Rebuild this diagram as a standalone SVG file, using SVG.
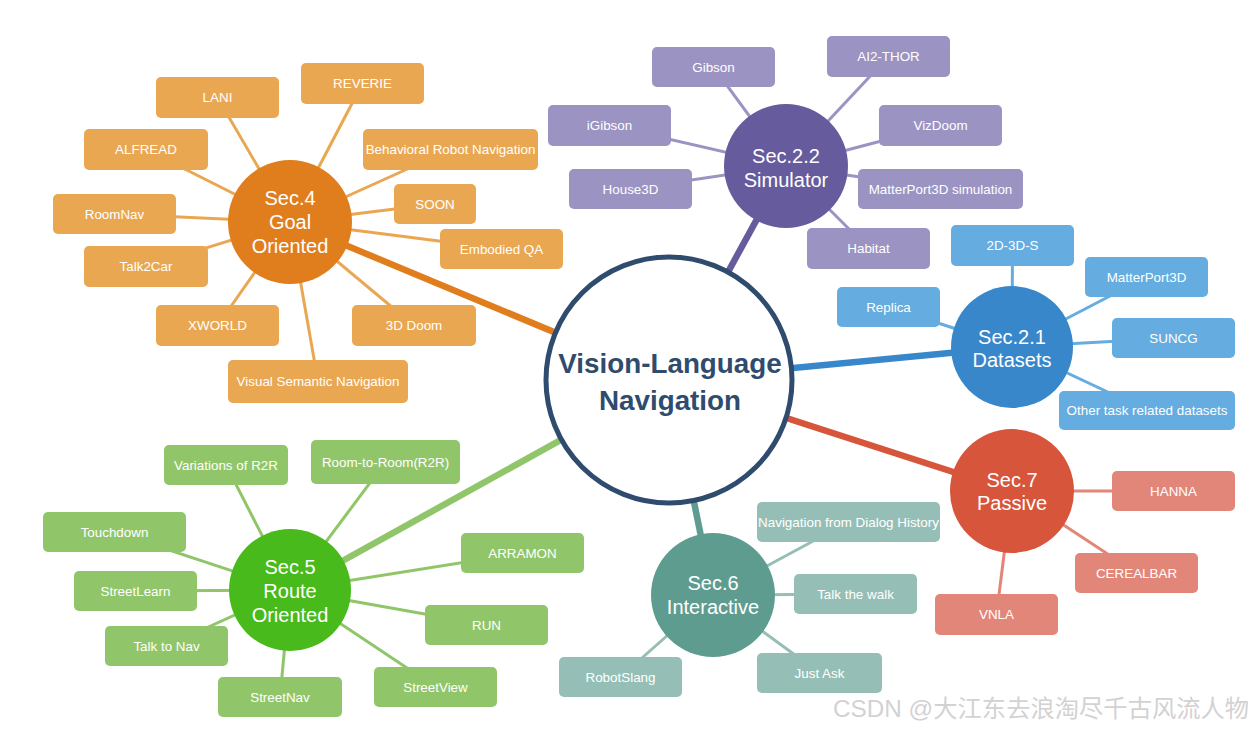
<svg xmlns="http://www.w3.org/2000/svg" width="1250" height="730" viewBox="0 0 1250 730">
<style>
text{font-family:"Liberation Sans",Arial,sans-serif;text-anchor:middle;fill:#fff}
.bt{font-size:13.4px}
.ct{font-size:20px}
.thin{stroke-width:3;fill:none}
.main{stroke-width:6.5;fill:none}
.o{fill:#eaa751}.oc{fill:#e07e1e}
.p{fill:#9b93c1}.pc{fill:#665b9c}
.b{fill:#65ade0}.bc{fill:#3987cb}
.r{fill:#e3867a}.rc{fill:#d6553b}
.g{fill:#90c669}.gc{fill:#48ba1b}
.t{fill:#95bfb6}.tc{fill:#5f9c90}
</style>
<rect width="1250" height="730" fill="#fff"/>
<g id="connectors">
 <g stroke="#eaa751" class="thin">
  <line x1="290" y1="222" x2="217.5" y2="97.5"/>
  <line x1="290" y1="222" x2="362.5" y2="83.5"/>
  <line x1="290" y1="222" x2="146" y2="149.5"/>
  <line x1="290" y1="222" x2="450.5" y2="149.5"/>
  <line x1="290" y1="222" x2="114.5" y2="214"/>
  <line x1="290" y1="222" x2="435" y2="204"/>
  <line x1="290" y1="222" x2="501.5" y2="249"/>
  <line x1="290" y1="222" x2="146" y2="266.5"/>
  <line x1="290" y1="222" x2="217.5" y2="325.5"/>
  <line x1="290" y1="222" x2="414" y2="325.5"/>
  <line x1="290" y1="222" x2="318" y2="381.5"/>
 </g>
 <g stroke="#9b93c1" class="thin">
  <line x1="786" y1="166" x2="713.5" y2="67"/>
  <line x1="786" y1="166" x2="888.5" y2="56.5"/>
  <line x1="786" y1="166" x2="609.5" y2="125.5"/>
  <line x1="786" y1="166" x2="940.5" y2="125.5"/>
  <line x1="786" y1="166" x2="630.5" y2="189"/>
  <line x1="786" y1="166" x2="940.5" y2="189"/>
  <line x1="786" y1="166" x2="868.5" y2="248.5"/>
 </g>
 <g stroke="#65ade0" class="thin">
  <line x1="1012" y1="347" x2="1012.5" y2="245.5"/>
  <line x1="1012" y1="347" x2="1146.5" y2="277"/>
  <line x1="1012" y1="347" x2="888.5" y2="307"/>
  <line x1="1012" y1="347" x2="1173.5" y2="338"/>
  <line x1="1012" y1="347" x2="1147" y2="410.5"/>
 </g>
 <g stroke="#e3867a" class="thin">
  <line x1="1012" y1="491" x2="1173.5" y2="491"/>
  <line x1="1012" y1="491" x2="1136.5" y2="573"/>
  <line x1="1012" y1="491" x2="996.5" y2="614.5"/>
 </g>
 <g stroke="#90c669" class="thin">
  <line x1="290" y1="590" x2="226" y2="465"/>
  <line x1="290" y1="590" x2="385.5" y2="462"/>
  <line x1="290" y1="590" x2="114.5" y2="532"/>
  <line x1="290" y1="590" x2="522.5" y2="553"/>
  <line x1="290" y1="590" x2="135.5" y2="591"/>
  <line x1="290" y1="590" x2="486.5" y2="625"/>
  <line x1="290" y1="590" x2="166.5" y2="646"/>
  <line x1="290" y1="590" x2="280" y2="697"/>
  <line x1="290" y1="590" x2="435.5" y2="687"/>
 </g>
 <g stroke="#95bfb6" class="thin">
  <line x1="713" y1="595" x2="848.5" y2="522"/>
  <line x1="713" y1="595" x2="855.5" y2="594"/>
  <line x1="713" y1="595" x2="819.5" y2="673"/>
  <line x1="713" y1="595" x2="620.5" y2="677"/>
 </g>
 <line class="main" stroke="#e07e1e" x1="290" y1="222" x2="669" y2="380"/>
 <line class="main" stroke="#665b9c" x1="786" y1="166" x2="669" y2="380"/>
 <line class="main" stroke="#3987cb" x1="1012" y1="347" x2="669" y2="380"/>
 <line class="main" stroke="#d6553b" x1="1012" y1="491" x2="669" y2="380"/>
 <line class="main" stroke="#90c669" x1="290" y1="590" x2="669" y2="380"/>
 <line class="main" stroke="#5f9c90" x1="713" y1="595" x2="669" y2="380"/>
</g>

<g id="vln">
 <circle cx="669" cy="380" r="123" fill="#fff" stroke="#2f4b6d" stroke-width="5"/>
 <text x="670" y="373" style="font-size:27.8px;font-weight:bold;fill:#2f4b6d">Vision-Language</text>
 <text x="670" y="410" style="font-size:27.8px;font-weight:bold;fill:#2f4b6d">Navigation</text>
</g>

<!-- Sec.4 -->
<g id="sec4"><circle class="oc" cx="290" cy="222" r="62"/>
 <text class="ct" x="290" y="205">Sec.4</text><text class="ct" x="290" y="229">Goal</text><text class="ct" x="290" y="253">Oriented</text></g>
<g id="lani"><rect class="o" x="156" y="77" width="123" height="41" rx="5"/><text class="bt" x="217.5" y="102">LANI</text></g>
<g id="reverie"><rect class="o" x="301" y="63" width="123" height="41" rx="5"/><text class="bt" x="362.5" y="88">REVERIE</text></g>
<g id="alfread"><rect class="o" x="84" y="129" width="124" height="41" rx="5"/><text class="bt" x="146" y="154">ALFREAD</text></g>
<g id="brn"><rect class="o" x="363" y="129" width="175" height="41" rx="5"/><text class="bt" x="450.5" y="154">Behavioral Robot Navigation</text></g>
<g id="roomnav"><rect class="o" x="53" y="194" width="123" height="40" rx="5"/><text class="bt" x="114.5" y="218.5">RoomNav</text></g>
<g id="soon"><rect class="o" x="394" y="184" width="82" height="40" rx="5"/><text class="bt" x="435" y="208.5">SOON</text></g>
<g id="eqa"><rect class="o" x="440" y="229" width="123" height="40" rx="5"/><text class="bt" x="501.5" y="253.5">Embodied QA</text></g>
<g id="talk2car"><rect class="o" x="84" y="246" width="124" height="41" rx="5"/><text class="bt" x="146" y="271">Talk2Car</text></g>
<g id="xworld"><rect class="o" x="156" y="305" width="123" height="41" rx="5"/><text class="bt" x="217.5" y="330">XWORLD</text></g>
<g id="doom3d"><rect class="o" x="352" y="305" width="124" height="41" rx="5"/><text class="bt" x="414" y="330">3D Doom</text></g>
<g id="vsn"><rect class="o" x="228" y="360" width="180" height="43" rx="5"/><text class="bt" x="318" y="386">Visual Semantic Navigation</text></g>

<!-- Sec.2.2 -->
<g id="sec22"><circle class="pc" cx="786" cy="166" r="62"/>
 <text class="ct" x="786" y="163">Sec.2.2</text><text class="ct" x="786" y="187">Simulator</text></g>
<g id="gibson"><rect class="p" x="652" y="47" width="123" height="40" rx="5"/><text class="bt" x="713.5" y="71.5">Gibson</text></g>
<g id="ai2thor"><rect class="p" x="827" y="36" width="123" height="41" rx="5"/><text class="bt" x="888.5" y="61">AI2-THOR</text></g>
<g id="igibson"><rect class="p" x="548" y="105" width="123" height="41" rx="5"/><text class="bt" x="609.5" y="130">iGibson</text></g>
<g id="vizdoom"><rect class="p" x="879" y="105" width="123" height="41" rx="5"/><text class="bt" x="940.5" y="130">VizDoom</text></g>
<g id="house3d"><rect class="p" x="569" y="169" width="123" height="40" rx="5"/><text class="bt" x="630.5" y="193.5">House3D</text></g>
<g id="mp3dsim"><rect class="p" x="858" y="169" width="165" height="40" rx="5"/><text class="bt" x="940.5" y="193.5">MatterPort3D simulation</text></g>
<g id="habitat"><rect class="p" x="807" y="228" width="123" height="41" rx="5"/><text class="bt" x="868.5" y="253">Habitat</text></g>

<!-- Sec.2.1 -->
<g id="sec21"><circle class="bc" cx="1012" cy="347" r="61"/>
 <text class="ct" x="1012" y="344">Sec.2.1</text><text class="ct" x="1012" y="367">Datasets</text></g>
<g id="d2d3ds"><rect class="b" x="951" y="225" width="123" height="41" rx="5"/><text class="bt" x="1012.5" y="250">2D-3D-S</text></g>
<g id="mp3d"><rect class="b" x="1085" y="257" width="123" height="40" rx="5"/><text class="bt" x="1146.5" y="281.5">MatterPort3D</text></g>
<g id="replica"><rect class="b" x="837" y="287" width="103" height="40" rx="5"/><text class="bt" x="888.5" y="311.5">Replica</text></g>
<g id="suncg"><rect class="b" x="1112" y="318" width="123" height="40" rx="5"/><text class="bt" x="1173.5" y="342.5">SUNCG</text></g>
<g id="othertask"><rect class="b" x="1059" y="391" width="176" height="39" rx="5"/><text class="bt" x="1147" y="415">Other task related datasets</text></g>

<!-- Sec.7 -->
<g id="sec7"><circle class="rc" cx="1012" cy="491" r="62"/>
 <text class="ct" x="1012" y="487">Sec.7</text><text class="ct" x="1012" y="510">Passive</text></g>
<g id="hanna"><rect class="r" x="1112" y="471" width="123" height="40" rx="5"/><text class="bt" x="1173.5" y="495.5">HANNA</text></g>
<g id="cerealbar"><rect class="r" x="1075" y="553" width="123" height="40" rx="5"/><text class="bt" x="1136.5" y="577.5">CEREALBAR</text></g>
<g id="vnla"><rect class="r" x="935" y="594" width="123" height="41" rx="5"/><text class="bt" x="996.5" y="619">VNLA</text></g>

<!-- Sec.5 -->
<g id="sec5"><circle class="gc" cx="290" cy="590" r="61"/>
 <text class="ct" x="290" y="574">Sec.5</text><text class="ct" x="290" y="598">Route</text><text class="ct" x="290" y="622">Oriented</text></g>
<g id="varr2r"><rect class="g" x="164" y="445" width="124" height="40" rx="5"/><text class="bt" x="226" y="469.5">Variations of R2R</text></g>
<g id="r2r"><rect class="g" x="311" y="440" width="149" height="44" rx="5"/><text class="bt" x="385.5" y="466.5">Room-to-Room(R2R)</text></g>
<g id="touchdown"><rect class="g" x="43" y="512" width="143" height="40" rx="5"/><text class="bt" x="114.5" y="536.5">Touchdown</text></g>
<g id="arramon"><rect class="g" x="461" y="533" width="123" height="40" rx="5"/><text class="bt" x="522.5" y="557.5">ARRAMON</text></g>
<g id="streetlearn"><rect class="g" x="74" y="571" width="123" height="40" rx="5"/><text class="bt" x="135.5" y="595.5">StreetLearn</text></g>
<g id="run"><rect class="g" x="425" y="605" width="123" height="40" rx="5"/><text class="bt" x="486.5" y="629.5">RUN</text></g>
<g id="talktonav"><rect class="g" x="105" y="626" width="123" height="40" rx="5"/><text class="bt" x="166.5" y="650.5">Talk to Nav</text></g>
<g id="streetnav"><rect class="g" x="218" y="677" width="124" height="40" rx="5"/><text class="bt" x="280" y="701.5">StreetNav</text></g>
<g id="streetview"><rect class="g" x="374" y="667" width="123" height="40" rx="5"/><text class="bt" x="435.5" y="691.5">StreetView</text></g>

<!-- Sec.6 -->
<g id="sec6"><circle class="tc" cx="713" cy="595" r="62"/>
 <text class="ct" x="713" y="590">Sec.6</text><text class="ct" x="713" y="614">Interactive</text></g>
<g id="nfdh"><rect class="t" x="757" y="502" width="183" height="40" rx="5"/><text class="bt" x="848.5" y="526.5">Navigation from Dialog History</text></g>
<g id="ttw"><rect class="t" x="794" y="574" width="123" height="40" rx="5"/><text class="bt" x="855.5" y="598.5">Talk the walk</text></g>
<g id="justask"><rect class="t" x="757" y="653" width="125" height="40" rx="5"/><text class="bt" x="819.5" y="677.5">Just Ask</text></g>
<g id="robotslang"><rect class="t" x="559" y="657" width="123" height="40" rx="5"/><text class="bt" x="620.5" y="681.5">RobotSlang</text></g>

<text x="833" y="717" style="text-anchor:start;font-size:24.3px;fill:#d2d2d2;font-family:'Liberation Sans','Noto Sans CJK SC',sans-serif">CSDN @大江东去浪淘尽千古风流人物</text>
</svg>
